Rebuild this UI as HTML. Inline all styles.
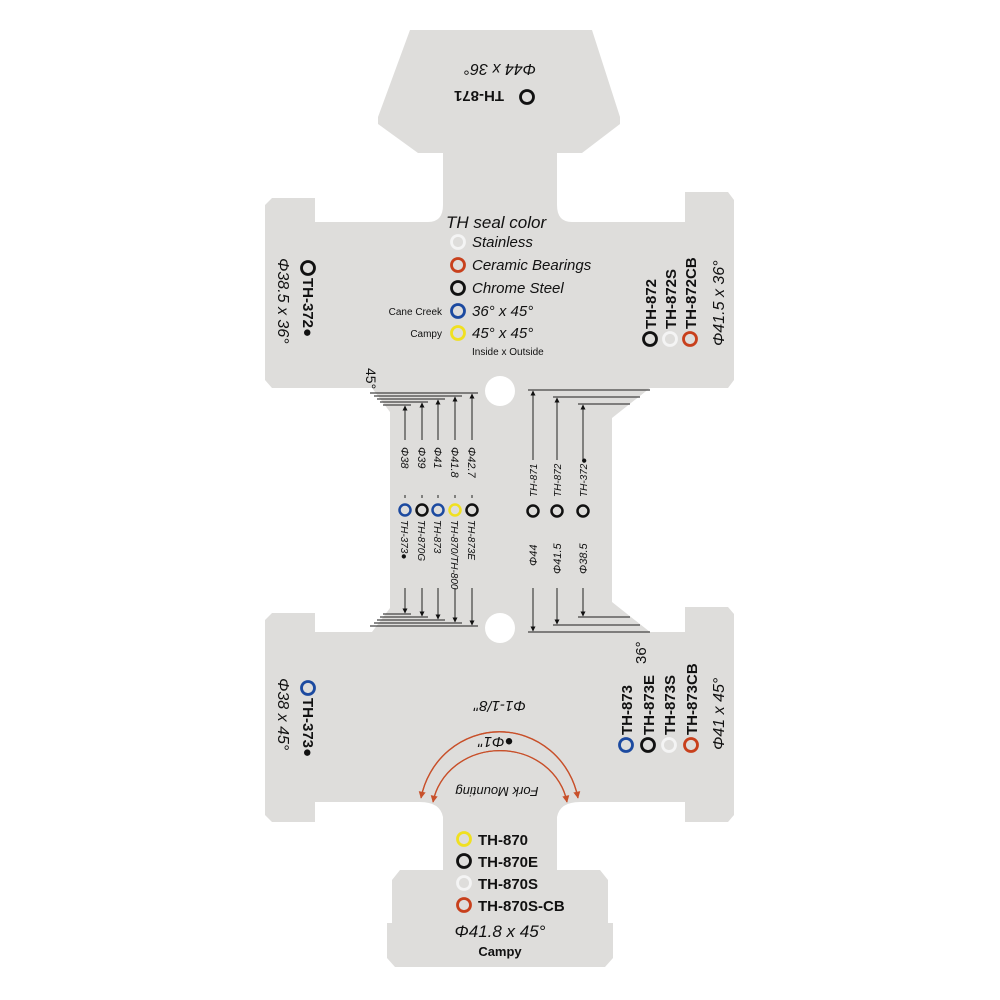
<!DOCTYPE html>
<html><head><meta charset="utf-8"><style>
html,body{margin:0;padding:0;background:#fff}
svg{display:block}
text{font-family:"Liberation Sans",sans-serif;fill:#111}
.b{font-weight:bold;font-size:15px}
.i{font-style:italic}
</style></head><body>
<svg width="1000" height="1000" viewBox="0 0 1000 1000" xmlns="http://www.w3.org/2000/svg">
<defs>
<marker id="ah" viewBox="0 0 10 10" refX="9" refY="5" markerWidth="5" markerHeight="7" orient="auto-start-reverse" markerUnits="userSpaceOnUse"><path d="M0,0 L10,5 L0,10 z" fill="#111"/></marker>
<marker id="rh" viewBox="0 0 10 10" refX="9" refY="5" markerWidth="8" markerHeight="7" orient="auto" markerUnits="userSpaceOnUse"><path d="M0,0 L10,5 L0,10 z" fill="#c8502a"/></marker>
</defs>
<path fill="#dedddb" d="M410,30 L592,30 L620,117 L620,124 L582,153 L557,153 L557,205 Q557,222 572,222 L685,222 L685,192 L728,192 L734,200 L734,380 L728,388 L650,388 L612,418 L612,602 L650,632 L685,632 L685,607 L728,607 L734,614 L734,815 L728,822 L685,822 L685,802 L580,802 Q560,802 557,817 L557,870 L600,870 L608,880 L608,923 L613,923 L613,958 L605,967 L395,967 L387,958 L387,923 L392,923 L392,880 L400,870 L443,870 L443,817 Q440,802 420,802 L315,802 L315,822 L272,822 L265,815 L265,620 L272,613 L315,613 L315,632 L372,632 L390,608 L390,412 L372,388 L272,388 L265,380 L265,205 L272,198 L315,198 L315,222 L428,222 Q443,222 443,205 L443,153 L418,153 L378,124 L378,117 Z"/>
<circle cx="500" cy="391" r="15" fill="#fff"/>
<circle cx="500" cy="628" r="15" fill="#fff"/>

<!-- top head -->
<g transform="rotate(180 500 70)"><text x="500" y="76" text-anchor="middle" class="i" font-size="16">Φ44 x 36°</text></g>
<g transform="rotate(180 490 97)"><text x="476" y="103" class="b" font-size="16">TH-871</text></g>
<circle cx="527" cy="97" r="6.5" fill="none" stroke="#111" stroke-width="2.8"/>

<!-- legend -->
<text x="446" y="228" class="i" font-size="17">TH seal color</text>
<g fill="none" stroke-width="2.8">
<circle cx="458" cy="242" r="6.5" stroke="#f4f4f4"/>
<circle cx="458" cy="265" r="6.5" stroke="#c8401c"/>
<circle cx="458" cy="288" r="6.5" stroke="#111"/>
<circle cx="458" cy="311" r="6.5" stroke="#1c4aa0"/>
<circle cx="458" cy="333" r="6.5" stroke="#f0e020"/>
</g>
<text x="472" y="247" class="i" font-size="15">Stainless</text>
<text x="472" y="270" class="i" font-size="15">Ceramic Bearings</text>
<text x="472" y="293" class="i" font-size="15">Chrome Steel</text>
<text x="472" y="316" class="i" font-size="15">36° x 45°</text>
<text x="472" y="338" class="i" font-size="15">45° x 45°</text>
<text x="442" y="315" text-anchor="end" font-size="10">Cane Creek</text>
<text x="442" y="337" text-anchor="end" font-size="10">Campy</text>
<text x="472" y="355" font-size="10">Inside  x  Outside</text>

<!-- upper left -->
<circle cx="308" cy="268" r="6.5" fill="none" stroke="#111" stroke-width="2.8"/>
<g transform="translate(303,278) rotate(90)"><text x="0" y="0" class="b">TH-372●</text></g>
<g transform="translate(278,258) rotate(90)"><text x="0" y="0" class="i" font-size="16">Φ38.5 x 36°</text></g>

<!-- upper right -->
<g fill="none" stroke-width="2.8">
<circle cx="650" cy="339" r="6.5" stroke="#111"/>
<circle cx="670" cy="339" r="6.5" stroke="#f4f4f4"/>
<circle cx="690" cy="339" r="6.5" stroke="#c8401c"/>
</g>
<g transform="translate(656,329) rotate(-90)"><text class="b">TH-872</text></g>
<g transform="translate(676,329) rotate(-90)"><text class="b">TH-872S</text></g>
<g transform="translate(696,329) rotate(-90)"><text class="b">TH-872CB</text></g>
<g transform="translate(724,346) rotate(-90)"><text class="i" font-size="16">Φ41.5 x 36°</text></g>

<g transform="translate(366,368) rotate(90)"><text font-size="14">45°</text></g>

<!-- dimension ledges -->
<g stroke="#444" stroke-width="1.3">
<line x1="370" y1="393" x2="478" y2="393"/>
<line x1="374" y1="396" x2="462" y2="396"/>
<line x1="377" y1="399" x2="445" y2="399"/>
<line x1="380" y1="402" x2="428" y2="402"/>
<line x1="383" y1="405" x2="411" y2="405"/>
<line x1="370" y1="626" x2="478" y2="626"/>
<line x1="374" y1="623" x2="462" y2="623"/>
<line x1="377" y1="620" x2="445" y2="620"/>
<line x1="380" y1="617" x2="428" y2="617"/>
<line x1="383" y1="614" x2="411" y2="614"/>
<line x1="528" y1="390" x2="650" y2="390"/>
<line x1="553" y1="397" x2="640" y2="397"/>
<line x1="578" y1="404" x2="630" y2="404"/>
<line x1="528" y1="632" x2="650" y2="632"/>
<line x1="553" y1="625" x2="640" y2="625"/>
<line x1="578" y1="617" x2="630" y2="617"/>
</g>
<g stroke="#222" stroke-width="1" marker-start="url(#ah)" marker-end="url(#ah)">
<line x1="405" y1="406" x2="405" y2="613"/>
<line x1="422" y1="403" x2="422" y2="616"/>
<line x1="438" y1="400" x2="438" y2="619"/>
<line x1="455" y1="397" x2="455" y2="622"/>
<line x1="472" y1="394" x2="472" y2="625"/>
<line x1="533" y1="391" x2="533" y2="631"/>
<line x1="557" y1="398" x2="557" y2="624"/>
<line x1="583" y1="405" x2="583" y2="616"/>
</g>
<rect x="398" y="440" width="80" height="55" fill="#dedddb"/>
<g transform="translate(401,447) rotate(90)"><text class="i" font-size="11">Φ38</text></g>
<g transform="translate(418,447) rotate(90)"><text class="i" font-size="11">Φ39</text></g>
<g transform="translate(434,447) rotate(90)"><text class="i" font-size="11">Φ41</text></g>
<g transform="translate(451,447) rotate(90)"><text class="i" font-size="11">Φ41.8</text></g>
<g transform="translate(468,447) rotate(90)"><text class="i" font-size="11">Φ42.7</text></g>
<rect x="398" y="498" width="84" height="90" fill="#dedddb"/>
<g transform="translate(401,520) rotate(90)"><text class="i" font-size="10">TH-373●</text></g>
<g transform="translate(418,520) rotate(90)"><text class="i" font-size="10">TH-870G</text></g>
<g transform="translate(434,520) rotate(90)"><text class="i" font-size="10">TH-873</text></g>
<g transform="translate(451,520) rotate(90)"><text class="i" font-size="10">TH-870/TH-800</text></g>
<g transform="translate(468,520) rotate(90)"><text class="i" font-size="10">TH-873E</text></g>
<rect x="525" y="460" width="66" height="128" fill="#dedddb"/>
<g fill="none" stroke-width="2.5">
<circle cx="405" cy="510" r="5.5" stroke="#1c4aa0"/>
<circle cx="422" cy="510" r="5.5" stroke="#111"/>
<circle cx="438" cy="510" r="5.5" stroke="#1c4aa0"/>
<circle cx="455" cy="510" r="5.5" stroke="#f0e020"/>
<circle cx="472" cy="510" r="5.5" stroke="#111"/>
<circle cx="533" cy="511" r="5.5" stroke="#111"/>
<circle cx="557" cy="511" r="5.5" stroke="#111"/>
<circle cx="583" cy="511" r="5.5" stroke="#111"/>
</g>
<g transform="translate(537,497) rotate(-90)"><text class="i" font-size="10">TH-871</text></g>
<g transform="translate(561,497) rotate(-90)"><text class="i" font-size="10">TH-872</text></g>
<g transform="translate(587,497) rotate(-90)"><text class="i" font-size="10">TH-372●</text></g>
<g transform="translate(537,566) rotate(-90)"><text class="i" font-size="11">Φ44</text></g>
<g transform="translate(561,574) rotate(-90)"><text class="i" font-size="11">Φ41.5</text></g>
<g transform="translate(587,574) rotate(-90)"><text class="i" font-size="11">Φ38.5</text></g>

<!-- lower left -->
<circle cx="308" cy="688" r="6.5" fill="none" stroke="#1c4aa0" stroke-width="2.8"/>
<g transform="translate(303,698) rotate(90)"><text class="b">TH-373●</text></g>
<g transform="translate(278,678) rotate(90)"><text class="i" font-size="16">Φ38 x 45°</text></g>

<!-- lower right -->
<g transform="translate(646,664) rotate(-90)"><text font-size="15">36°</text></g>
<g fill="none" stroke-width="2.8">
<circle cx="626" cy="745" r="6.5" stroke="#1c4aa0"/>
<circle cx="648" cy="745" r="6.5" stroke="#111"/>
<circle cx="669" cy="745" r="6.5" stroke="#f4f4f4"/>
<circle cx="691" cy="745" r="6.5" stroke="#c8401c"/>
</g>
<g transform="translate(632,735) rotate(-90)"><text class="b">TH-873</text></g>
<g transform="translate(654,735) rotate(-90)"><text class="b">TH-873E</text></g>
<g transform="translate(675,735) rotate(-90)"><text class="b">TH-873S</text></g>
<g transform="translate(697,735) rotate(-90)"><text class="b">TH-873CB</text></g>
<g transform="translate(724,750) rotate(-90)"><text class="i" font-size="16">Φ41 x 45°</text></g>

<!-- arcs -->
<path d="M421,798 A80,82 0 0 1 578,798" fill="none" stroke="#c8502a" stroke-width="1.3" marker-end="url(#rh)"/>
<path d="M578,798 A80,82 0 0 0 421,798" fill="none" stroke="#c8502a" stroke-width="1.3" marker-end="url(#rh)"/>
<path d="M433,802 A68,62 0 0 1 567,802" fill="none" stroke="#c8502a" stroke-width="1.3" marker-end="url(#rh)"/>
<path d="M567,802 A68,62 0 0 0 433,802" fill="none" stroke="#c8502a" stroke-width="1.3" marker-end="url(#rh)"/>
<g transform="rotate(180 500 707)"><text x="500" y="713" text-anchor="middle" class="i" font-size="15">Φ1-1/8"</text></g>
<g transform="rotate(180 496 743)"><text x="496" y="749" text-anchor="middle" class="i" font-size="15">●Φ1"</text></g>
<g transform="rotate(180 497 792)"><text x="497" y="797" text-anchor="middle" class="i" font-size="13">Fork Mounting</text></g>

<!-- bottom -->
<g fill="none" stroke-width="2.8">
<circle cx="464" cy="839" r="6.5" stroke="#f0e020"/>
<circle cx="464" cy="861" r="6.5" stroke="#111"/>
<circle cx="464" cy="883" r="6.5" stroke="#f4f4f4"/>
<circle cx="464" cy="905" r="6.5" stroke="#c8401c"/>
</g>
<text x="478" y="845" class="b">TH-870</text>
<text x="478" y="867" class="b">TH-870E</text>
<text x="478" y="889" class="b">TH-870S</text>
<text x="478" y="911" class="b">TH-870S-CB</text>
<text x="500" y="937" text-anchor="middle" class="i" font-size="17">Φ41.8 x 45°</text>
<text x="500" y="956" text-anchor="middle" font-weight="bold" font-size="13">Campy</text>
</svg>
</body></html>
